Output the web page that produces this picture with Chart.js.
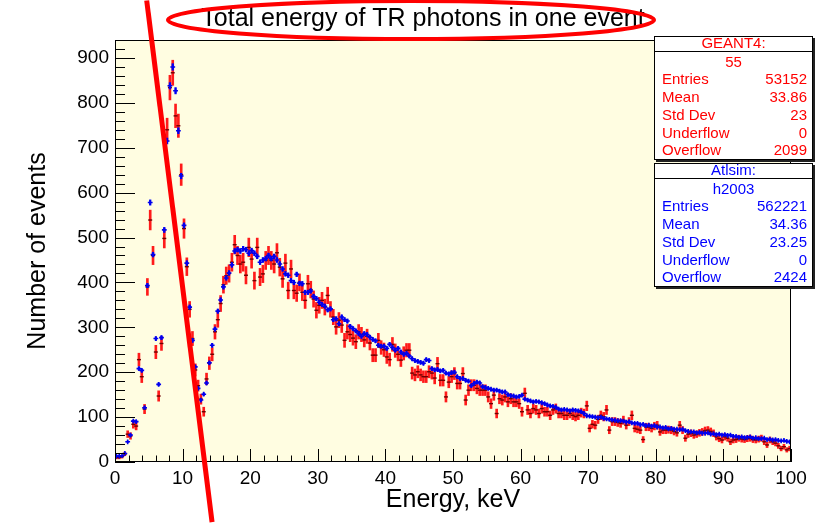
<!DOCTYPE html>
<html>
<head>
<meta charset="utf-8">
<title>Total energy of TR photons in one event</title>
<script src="https://cdn.jsdelivr.net/npm/chart.js@4.4.1/dist/chart.umd.min.js"></script>
<style>
  html, body { margin: 0; padding: 0; background: #fff; }
  #wrap { width: 826px; height: 523px; }
</style>
</head>
<body>
<div id="wrap"><canvas id="trChart" width="826" height="523"></canvas></div>
<script>
// histogram binning: 240 bins over 0..100 keV
const BIN_COUNT = 240;
const X_MIN = 0;
const X_MAX = 100;
const Y_MAX = 940;

const xTickValues = [0, 10, 20, 30, 40, 50, 60, 70, 80, 90, 100];
const yTickValues = [0, 100, 200, 300, 400, 500, 600, 700, 800, 900];

// Atlsim (h2003), counts per bin
const atlsimCounts = [
  13, 13, 14, 19, 45, 60, 91, 90, 208, 204,
  121, 393, 578, 462, 275, 173, 277, 517, 715, 838,
  880, 827, 738, 637, 527, 443, 345, 271, 212, 164,
  138, 151, 176, 221, 260, 296, 336, 361, 390, 410,
  421, 439, 470, 473, 470, 475, 473, 465, 471, 465,
  458, 445, 450, 453, 460, 453, 458, 450, 441, 430,
  419, 416, 404, 400, 418, 398, 397, 378, 378, 381,
  369, 364, 356, 351, 347, 339, 341, 317, 319, 308,
  323, 317, 314, 302, 297, 292, 286, 280, 286, 284,
  278, 273, 270, 260, 258, 258, 253, 262, 255, 249,
  253, 245, 240, 242, 236, 230, 226, 224, 222, 220,
  228, 226, 208, 205, 206, 203, 204, 198, 196, 199,
  200, 190, 186, 186, 182, 180, 170, 175, 178, 176,
  168, 166, 164, 162, 160, 160, 158, 156, 156, 150,
  148, 147, 145, 146, 149, 140, 138, 136, 134, 135,
  134, 132, 130, 127, 125, 124, 122, 118, 116, 117,
  116, 114, 116, 115, 114, 112, 108, 103, 102, 101,
  100, 99, 100, 97, 96, 95, 94, 93, 92, 92,
  91, 89, 90, 87, 86, 86, 83, 84, 81, 82,
  80, 81, 78, 78, 76, 77, 74, 75, 73, 73,
  72, 73, 70, 68, 67, 67, 65, 66, 64, 64,
  65, 62, 63, 61, 62, 60, 61, 59, 60, 57,
  57, 55, 56, 54, 55, 56, 53, 54, 52, 52,
  53, 50, 51, 49, 50, 48, 47, 48, 46, 45
];

// GEANT4 (55), counts per bin
const geantCounts = [
  10, 10, 12, 18, 62, 58, 84, 80, 228, 190,
  118, 390, 539, 460, 245, 147, 264, 498, 740, 834,
  867, 771, 749, 640, 520, 435, 340, 275, 205, 170,
  140, 112, 185, 220, 240, 290, 317, 353, 395, 415,
  420, 445, 484, 460, 441, 445, 416, 478, 452, 404,
  478, 412, 419, 449, 460, 449, 441, 466, 434, 408,
  443, 382, 430, 382, 376, 400, 378, 360, 397, 384,
  363, 338, 349, 360, 345, 371, 340, 323, 301, 316,
  305, 271, 290, 284, 276, 268, 290, 284, 272, 280,
  265, 238, 238, 271, 255, 250, 234, 228, 262, 248,
  240, 227, 242, 249, 249, 198, 194, 201, 194, 190,
  190, 201, 198, 187, 219, 182, 182, 145, 178, 190,
  197, 175, 175, 197, 138, 160, 171, 171, 164, 160,
  160, 160, 145, 130, 149, 108, 141, 138, 145, 134,
  141, 134, 134, 130, 112, 153, 116, 108, 119, 116,
  108, 119, 112, 112, 104, 116, 119, 108, 108, 104,
  104, 108, 104, 101, 104, 110, 108, 125, 75, 84,
  82, 95, 104, 101, 116, 71, 90, 90, 88, 86,
  93, 82, 90, 104, 75, 73, 71, 50, 78, 78,
  75, 80, 82, 67, 71, 71, 72, 71, 68, 65,
  82, 71, 53, 62, 64, 60, 62, 65, 67, 70,
  71, 68, 64, 56, 52, 49, 56, 53, 45, 49,
  50, 53, 51, 50, 52, 53, 50, 49, 51, 53,
  45, 38, 49, 45, 42, 36, 30, 34, 27, 30
];

// per-bin statistical weight used for the error bars (err = sqrt(w * N))
const GEANT_WEIGHT = 0.9;
const ATLSIM_WEIGHT = 0.06;

const geantStats = [
  ['Entries', '53152'], ['Mean', '33.86'], ['Std Dev', '23'],
  ['Underflow', '0'], ['Overflow', '2099']
];
const atlsimStats = [
  ['Entries', '562221'], ['Mean', '34.36'], ['Std Dev', '23.25'],
  ['Underflow', '0'], ['Overflow', '2424']
];

const FONT = "'Liberation Sans', Arial, Helvetica, sans-serif";
const PAD_FILL = '#fffde1';

const binWidth = (X_MAX - X_MIN) / BIN_COUNT;
const binCenters = atlsimCounts.map((_, i) => X_MIN + (i + 0.5) * binWidth);

function errorBars(counts, weight) {
    return counts.map((n, i) => {
        const e = Math.sqrt(weight * n);
        return { x: binCenters[i], y: [n - e, n + e] };
    });
}
function markers(counts) {
    return counts.map((n, i) => ({ x: binCenters[i], y: n }));
}

// frame, inside ticks, title, stat boxes and the red marks on top
const padDecor = {
    id: 'padDecor',
    beforeDraw(chart) {
        const { ctx, chartArea: a } = chart;
        ctx.save();
        ctx.fillStyle = '#ffffff';
        ctx.fillRect(0, 0, chart.width, chart.height);
        ctx.fillStyle = PAD_FILL;
        ctx.fillRect(a.left, a.top, a.right - a.left, a.bottom - a.top);
        ctx.restore();
    },
    afterDatasetsDraw(chart) {
        const { ctx, chartArea: a, scales: { x, y } } = chart;
        ctx.save();
        ctx.strokeStyle = '#000';
        ctx.lineWidth = 1;
        ctx.strokeRect(Math.round(a.left) + 0.5, Math.round(a.top) + 0.5,
            Math.round(a.right - a.left) - 1, Math.round(a.bottom - a.top) - 1);

        ctx.beginPath();
        // x axis ticks (major every 10, minor every 2), pointing up into the pad
        for (let v = X_MIN; v <= X_MAX + 1e-9; v += 2) {
            const px = Math.round(x.getPixelForValue(v)) + 0.5;
            const len = xTickValues.includes(Math.round(v)) ? 13 : 6.5;
            ctx.moveTo(px, a.bottom);
            ctx.lineTo(px, a.bottom - len);
        }
        // y axis ticks (major every 100, minor every 20)
        for (let v = 0; v <= Y_MAX + 1e-9; v += 20) {
            const py = Math.round(y.getPixelForValue(v)) + 0.5;
            const len = yTickValues.includes(Math.round(v)) ? 20 : 10;
            ctx.moveTo(a.left, py);
            ctx.lineTo(a.left + len, py);
        }
        ctx.stroke();
        ctx.restore();
    },
    afterDraw(chart) {
        const { ctx, scales: { x, y } } = chart;
        ctx.save();

        // title
        ctx.fillStyle = '#000';
        ctx.font = `25px ${FONT}`;
        ctx.textAlign = 'center';
        ctx.textBaseline = 'middle';
        ctx.fillText('Total energy of TR photons in one event', 423, 19);

        drawStatBox(ctx, 654, 36, 159, 124, '#ff0000', 'GEANT4:', '55', geantStats);
        drawStatBox(ctx, 654, 163, 159, 124, '#0000ff', 'Atlsim:', 'h2003', atlsimStats);

        // red ellipse round the title
        ctx.strokeStyle = '#ff0000';
        ctx.lineWidth = 4;
        ctx.beginPath();
        ctx.ellipse(411, 20, 243, 19, 0, 0, Math.PI * 2);
        ctx.stroke();

        // red slanted line across the low-energy peaks (data units)
        ctx.lineWidth = 5;
        ctx.beginPath();
        ctx.moveTo(x.getPixelForValue(4.69), y.getPixelForValue(1028));
        ctx.lineTo(x.getPixelForValue(14.36), y.getPixelForValue(-134));
        ctx.stroke();
        ctx.restore();
    }
};

function drawStatBox(ctx, left, top, w, h, color, heading, name, rows) {
    // shadow
    ctx.fillStyle = '#222';
    ctx.fillRect(left + 2, top + 2, w, h);
    ctx.fillStyle = '#fff';
    ctx.fillRect(left, top, w, h);
    ctx.strokeStyle = '#000';
    ctx.lineWidth = 1;
    ctx.strokeRect(left + 0.5, top + 0.5, w - 1, h - 1);
    ctx.beginPath();
    ctx.moveTo(left, top + 15.5);
    ctx.lineTo(left + w, top + 15.5);
    ctx.stroke();

    ctx.fillStyle = color;
    ctx.font = `15px ${FONT}`;
    ctx.textBaseline = 'middle';
    ctx.textAlign = 'center';
    ctx.fillText(heading, left + w / 2, top + 8);
    ctx.fillText(name, left + w / 2, top + 26.5);
    rows.forEach(([label, value], i) => {
        const ty = top + 44 + i * 17.8;
        ctx.textAlign = 'left';
        ctx.fillText(label, left + 8, ty);
        ctx.textAlign = 'right';
        ctx.fillText(value, left + w - 6, ty);
    });
}

const ctx = document.getElementById('trChart').getContext('2d');
new Chart(ctx, {
    type: 'bar',
    data: {
        datasets: [
            {
                type: 'scatter',
                label: 'Atlsim',
                data: markers(atlsimCounts),
                pointStyle: 'cross',
                pointRadius: 2.4,
                borderColor: '#0000ee',
                borderWidth: 1.6,
                order: 0
            },
            {
                type: 'bar',
                label: 'Atlsim errors',
                data: errorBars(atlsimCounts, ATLSIM_WEIGHT),
                backgroundColor: '#0000ff',
                barThickness: 1.6,
                grouped: false,
                order: 1
            },
            {
                type: 'scatter',
                label: 'GEANT4',
                data: markers(geantCounts),
                pointStyle: 'line',
                pointRadius: 2,
                borderColor: '#700000',
                borderWidth: 1.4,
                order: 2
            },
            {
                type: 'bar',
                label: 'GEANT4 errors',
                data: errorBars(geantCounts, GEANT_WEIGHT),
                backgroundColor: '#ff1a1a',
                barThickness: 2,
                grouped: false,
                order: 3
            }
        ]
    },
    options: {
        responsive: false,
        animation: false,
        devicePixelRatio: 1,
        events: [],
        layout: { padding: { top: 40, right: 35, left: 0, bottom: 0 } },
        plugins: {
            legend: { display: false },
            tooltip: { enabled: false },
            title: { display: false }
        },
        scales: {
            x: {
                type: 'linear',
                min: X_MIN,
                max: X_MAX,
                offset: false,
                grid: { display: false, drawTicks: false },
                border: { display: false },
                afterBuildTicks: s => { s.ticks = xTickValues.map(v => ({ value: v })); },
                afterFit: s => { s.height = 61; },
                ticks: {
                    font: { family: FONT, size: 19 },
                    color: '#000',
                    padding: 5,
                    maxRotation: 0,
                    autoSkip: false
                },
                title: {
                    display: true,
                    text: 'Energy, keV',
                    font: { family: FONT, size: 25 },
                    color: '#000',
                    padding: { top: 0, bottom: 8 }
                }
            },
            y: {
                type: 'linear',
                min: 0,
                max: Y_MAX,
                grid: { display: false, drawTicks: false },
                border: { display: false },
                afterBuildTicks: s => { s.ticks = yTickValues.map(v => ({ value: v })); },
                afterFit: s => { s.width = 115; },
                ticks: {
                    font: { family: FONT, size: 19 },
                    color: '#000',
                    padding: 6,
                    autoSkip: false
                },
                title: {
                    display: true,
                    text: 'Number of events',
                    font: { family: FONT, size: 25 },
                    color: '#000',
                    padding: { top: 23, bottom: 0 }
                }
            }
        }
    },
    plugins: [padDecor]
});
</script>
</body>
</html>
